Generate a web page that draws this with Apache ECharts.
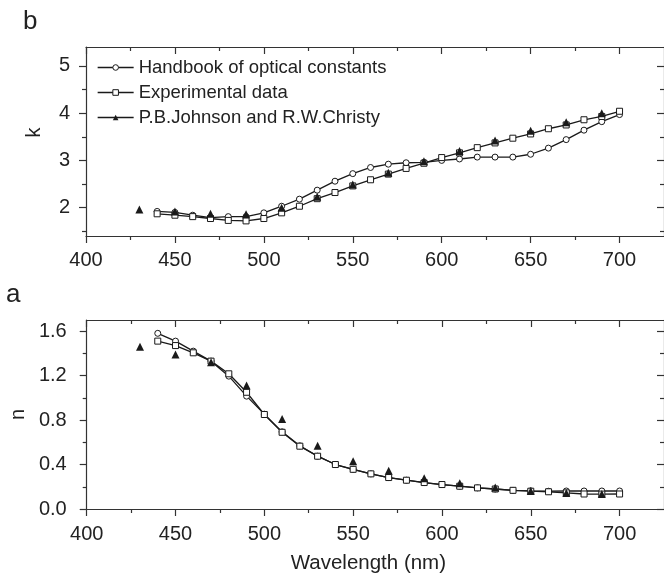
<!DOCTYPE html>
<html><head><meta charset="utf-8">
<script src="https://cdn.jsdelivr.net/npm/echarts@6/dist/echarts.min.js"></script>
<style>html,body{margin:0;padding:0;background:#fff}#c{width:664px;height:581px}</style>
</head><body><div id="c"></div>
<script>
// ---- data ----
const wavelength = [440,450,460,470,480,490,500,510,520,530,540,550,560,570,580,590,600,610,620,630,640,650,660,670,680,690,700];
const kHandbook = [1.92,1.90,1.84,1.79,1.81,1.81,1.89,2.03,2.18,2.37,2.56,2.72,2.85,2.92,2.95,2.96,3.00,3.03,3.07,3.07,3.07,3.13,3.26,3.44,3.64,3.82,3.97];
const kExperimental = [1.87,1.84,1.81,1.77,1.73,1.72,1.77,1.89,2.03,2.19,2.32,2.46,2.59,2.71,2.83,2.94,3.06,3.16,3.27,3.37,3.47,3.56,3.67,3.75,3.86,3.93,4.04];
const nHandbook = [1.58,1.51,1.42,1.33,1.195,1.015,0.853,0.694,0.568,0.475,0.40,0.357,0.316,0.283,0.259,0.238,0.22,0.205,0.19,0.18,0.168,0.163,0.16,0.162,0.162,0.162,0.162];
const nExperimental = [1.51,1.47,1.405,1.33,1.216,1.05,0.85,0.69,0.565,0.475,0.40,0.357,0.316,0.283,0.259,0.238,0.22,0.205,0.19,0.18,0.168,0.16,0.155,0.145,0.135,0.134,0.135];
const wavelengthJohnson = [430,450,470,490,510,530,550,570,590,610,630,650,670,690];
const kJohnson = [1.96,1.92,1.87,1.86,2.00,2.23,2.49,2.74,2.98,3.20,3.42,3.63,3.81,4.00];
const nJohnson = [1.46,1.39,1.32,1.11,0.81,0.568,0.43,0.343,0.277,0.232,0.193,0.162,0.145,0.134];
const seriesNames = ['Handbook of optical constants','Experimental data','P.B.Johnson and R.W.Christy'];
const xMajorTicks = [400,450,500,550,600,650,700];
const xMinorTicks = [425,475,525,575,625,675];
const kMajorTicks = [2,3,4,5];
const kMinorTicks = [1.5,2.5,3.5,4.5];
const nMajorTicks = [0,0.4,0.8,1.2,1.6];
const nMinorTicks = [0.2,0.6,1.0,1.4];

// ---- styling ----
const FONT = 'Liberation Sans, Arial, Helvetica, sans-serif';
const AX = '#333';
const TXT = '#222';
const LINE = '#1a1a1a';

function axisSet(dim, gridIndex, min, max, major, minor, labelOpts, nameOpts) {
  const sides = dim === 'x' ? ['bottom', 'top'] : ['left', 'right'];
  const out = [];
  sides.forEach((pos, i) => {
    const inside = i === 1;
    const a = {
      type: 'value', gridIndex, position: pos, min, max,
      axisLine: {show: true, onZero: false, lineStyle: {color: AX, width: 1.2}},
      axisTick: {show: true, customValues: major, inside, length: 7, lineStyle: {color: AX, width: 1.2}},
      axisLabel: i === 0 ? Object.assign({show: true, customValues: major, color: TXT, fontSize: 20, fontFamily: FONT}, labelOpts) : {show: false},
      splitLine: {show: false}, minorTick: {show: false}
    };
    if (i === 0 && nameOpts) Object.assign(a, nameOpts);
    out.push(a);
    out.push({
      type: 'value', gridIndex, position: pos, min, max,
      axisLine: {show: false, onZero: false},
      axisTick: {show: true, customValues: minor, inside, length: 4, lineStyle: {color: AX, width: 1.2}},
      axisLabel: {show: false}, splitLine: {show: false}
    });
  });
  return out;
}

const xAxes = [
  ...axisSet('x', 0, 400, 725, xMajorTicks, xMinorTicks, {margin: 14}),
  ...axisSet('x', 1, 400, 725, xMajorTicks, xMinorTicks, {margin: 15}, {
    name: 'Wavelength (nm)', nameLocation: 'middle', nameGap: 44,
    nameTextStyle: {fontSize: 20.5, color: TXT, fontFamily: FONT, padding: [0, 14, 0, 0]}
  })
];
const yAxes = [
  ...axisSet('y', 0, 1.4, 5.4, kMajorTicks, kMinorTicks, {margin: 16, formatter: v => String(Math.round(v))}, {
    name: 'k', nameLocation: 'middle', nameRotate: 90, nameGap: 42,
    nameTextStyle: {fontSize: 20, color: TXT, fontFamily: FONT, padding: [0, 0, 0, 18]}
  }),
  ...axisSet('y', 1, 0, 1.7, nMajorTicks, nMinorTicks, {margin: 20, formatter: v => v.toFixed(1)}, {
    name: 'n', nameLocation: 'middle', nameRotate: 90, nameGap: 56,
    nameTextStyle: {fontSize: 20, color: TXT, fontFamily: FONT}
  })
];

function pairs(xs, ys) { return xs.map((x, i) => [x, ys[i]]); }

function mk(name, g, xs, ys, kind) {
  const s = {
    name, type: 'line', xAxisIndex: g * 4, yAxisIndex: g * 4, data: pairs(xs, ys),
    color: LINE, silent: true, animation: false, showSymbol: true,
    lineStyle: {color: LINE, width: 1.3},
    itemStyle: {color: '#fff', borderColor: LINE, borderWidth: 1}
  };
  if (kind === 'c') { s.symbol = 'circle'; s.symbolSize = 6; }
  if (kind === 's') { s.symbol = 'rect'; s.symbolSize = 6; }
  if (kind === 't') {
    s.symbol = 'triangle'; s.symbolSize = 8; s.z = 3;
    s.itemStyle = {color: LINE, borderColor: LINE, borderWidth: 0};
    s.lineStyle = {color: LINE, width: 1.3, opacity: 0};
  }
  return s;
}

const chart = echarts.init(document.getElementById('c'), null, {renderer: 'canvas'});
chart.setOption({
  backgroundColor: '#fff',
  animation: false,
  grid: [
    {left: 86, top: 47, width: 579, height: 189, containLabel: false},
    {left: 86, top: 320, width: 579, height: 189, containLabel: false}
  ],
  xAxis: xAxes,
  yAxis: yAxes,
  legend: {
    orient: 'vertical', left: 97, top: 58, padding: 0,
    itemWidth: 36, itemHeight: 7, itemGap: 6, selectedMode: false,
    textStyle: {fontSize: 18.5, color: TXT, lineHeight: 19, fontFamily: FONT},
    lineStyle: {width: 1.3},
    data: [
      {name: seriesNames[0], itemStyle: {color: '#fff', borderColor: LINE, borderWidth: 1}},
      {name: seriesNames[1], itemStyle: {color: '#fff', borderColor: LINE, borderWidth: 1}},
      {name: seriesNames[2], itemStyle: {color: LINE, borderWidth: 0}, lineStyle: {opacity: 1, color: LINE, width: 1.3}}
    ]
  },
  graphic: [
    {type: 'text', left: 23, top: 9, style: {text: 'b', fontSize: 26, fill: TXT, fontFamily: FONT}},
    {type: 'text', left: 6, top: 282, style: {text: 'a', fontSize: 26, fill: TXT, fontFamily: FONT}}
  ],
  series: [
    mk(seriesNames[0], 0, wavelength, kHandbook, 'c'),
    mk(seriesNames[1], 0, wavelength, kExperimental, 's'),
    mk(seriesNames[2], 0, wavelengthJohnson, kJohnson, 't'),
    mk(seriesNames[0], 1, wavelength, nHandbook, 'c'),
    mk(seriesNames[1], 1, wavelength, nExperimental, 's'),
    mk(seriesNames[2], 1, wavelengthJohnson, nJohnson, 't')
  ]
});
</script>
</body></html>
